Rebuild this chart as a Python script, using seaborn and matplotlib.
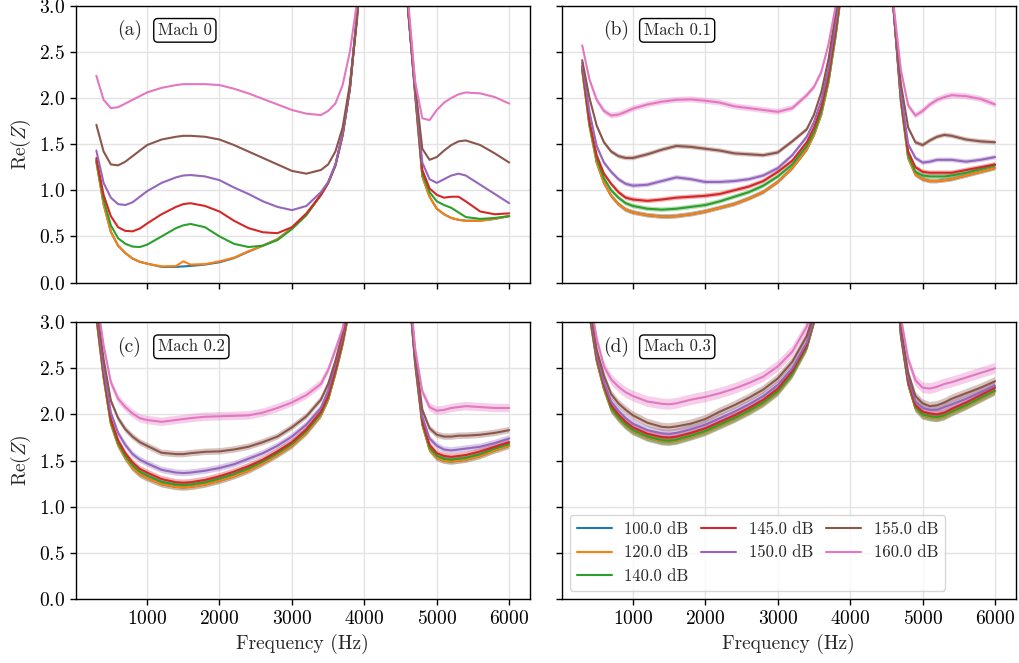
import numpy as np
import pandas as pd
import matplotlib
matplotlib.use("Agg")
import matplotlib.pyplot as plt
import seaborn as sns

# ---------------- data ----------------
FREQ = [300, 400, 500, 600, 700, 800, 900, 1000,
        1200, 1400, 1500, 1600, 1800,
        2000, 2200, 2400, 2600, 2800,
        3000, 3200, 3400, 3500, 3600, 3700, 3800, 3900,
        4000, 4200, 4400, 4500, 4600, 4700, 4800, 4900,
        5000, 5100, 5200, 5300, 5400, 5600, 5800, 6000]

LEVELS = ["100.0 dB", "120.0 dB", "140.0 dB", "145.0 dB", "150.0 dB", "155.0 dB", "160.0 dB"]
COLORS = ["#1f77b4", "#ff7f0e", "#2ca02c", "#d62728", "#9467bd", "#8c564b", "#e377c2"]
MACH_TITLES = ["Mach 0", "Mach 0.1", "Mach 0.2", "Mach 0.3"]
PANEL_TAGS = ["(a)", "(b)", "(c)", "(d)"]
BAND_HALF = [0.0, 0.025, 0.035, 0.045]

# ---- Mach 0 ----
M0_100 = [1.31, 0.85, 0.55, 0.40, 0.32, 0.26, 0.225, 0.205,
          0.17, 0.17, 0.175, 0.18, 0.195,
          0.22, 0.265, 0.335, 0.40, 0.47,
          0.59, 0.74, 0.95, 1.08, 1.27, 1.60, 2.10, 2.90,
          4.3, 15.0, 8.0, 5.0, 3.0, 2.05, 1.15, 0.93,
          0.80, 0.74, 0.70, 0.68, 0.67, 0.67, 0.69, 0.72]
M0_120 = [1.31, 0.85, 0.55, 0.40, 0.32, 0.26, 0.225, 0.205,
          0.175, 0.18, 0.23, 0.195, 0.20,
          0.23, 0.27, 0.34, 0.40, 0.47,
          0.59, 0.74, 0.95, 1.08, 1.27, 1.60, 2.10, 2.90,
          4.3, 15.0, 8.0, 5.0, 3.0, 2.05, 1.15, 0.93,
          0.80, 0.74, 0.70, 0.68, 0.67, 0.67, 0.69, 0.72]
M0_140 = [1.33, 0.90, 0.62, 0.48, 0.42, 0.39, 0.385, 0.41,
          0.50, 0.59, 0.62, 0.635, 0.60,
          0.50, 0.42, 0.385, 0.40, 0.46,
          0.58, 0.73, 0.95, 1.08, 1.27, 1.60, 2.10, 2.90,
          4.3, 15.0, 8.0, 5.0, 3.0, 2.07, 1.18, 0.98,
          0.88, 0.84, 0.81, 0.76, 0.71, 0.69, 0.70, 0.72]
M0_145 = [1.35, 0.95, 0.72, 0.60, 0.56, 0.555, 0.585, 0.64,
          0.74, 0.82, 0.85, 0.86, 0.83,
          0.77, 0.67, 0.59, 0.545, 0.535,
          0.60, 0.75, 0.95, 1.08, 1.27, 1.60, 2.10, 2.90,
          4.3, 15.0, 8.0, 5.0, 3.0, 2.08, 1.22, 1.02,
          0.95, 0.92, 0.93, 0.93, 0.88, 0.77, 0.74, 0.75]
M0_150 = [1.43, 1.08, 0.92, 0.85, 0.84, 0.87, 0.93, 0.99,
          1.08, 1.14, 1.16, 1.165, 1.15,
          1.11, 1.03, 0.96, 0.88, 0.82,
          0.785, 0.83, 0.98, 1.09, 1.28, 1.62, 2.12, 2.92,
          4.3, 15.0, 8.0, 5.0, 3.0, 2.10, 1.30, 1.12,
          1.08, 1.12, 1.16, 1.18, 1.16, 1.06, 0.96, 0.86]
M0_155 = [1.71, 1.42, 1.28, 1.27, 1.31, 1.37, 1.43, 1.49,
          1.55, 1.58, 1.59, 1.59, 1.58,
          1.55, 1.49, 1.42, 1.35, 1.28,
          1.21, 1.18, 1.22, 1.28, 1.42, 1.68, 2.15, 2.85,
          4.3, 15.0, 8.0, 5.0, 3.0, 2.15, 1.45, 1.33,
          1.36, 1.43, 1.49, 1.53, 1.54, 1.49, 1.40, 1.30]
M0_160 = [2.24, 1.98, 1.89, 1.90, 1.94, 1.98, 2.02, 2.06,
          2.11, 2.14, 2.15, 2.15, 2.15,
          2.14, 2.10, 2.05, 1.99, 1.93,
          1.87, 1.83, 1.815, 1.86, 1.94, 2.14, 2.50, 3.05,
          4.5, 15.0, 8.0, 5.0, 3.1, 2.18, 1.78, 1.76,
          1.87, 1.95, 2.00, 2.04, 2.06, 2.05, 2.01, 1.94]

# ---- Mach 0.1 ----
M1_100 = [2.30, 1.70, 1.30, 1.08, 0.94, 0.85, 0.79, 0.76,
          0.73, 0.715, 0.715, 0.72, 0.74,
          0.77, 0.81, 0.85, 0.91, 0.98,
          1.09, 1.24, 1.44, 1.60, 1.82, 2.17, 2.68, 3.28,
          4.5, 15.0, 8.0, 5.0, 2.95, 1.96, 1.35, 1.17,
          1.12, 1.10, 1.10, 1.11, 1.12, 1.16, 1.20, 1.24]
M1_120 = [2.30, 1.70, 1.30, 1.08, 0.94, 0.85, 0.79, 0.76,
          0.73, 0.715, 0.715, 0.72, 0.74,
          0.77, 0.81, 0.85, 0.91, 0.98,
          1.09, 1.24, 1.44, 1.60, 1.82, 2.17, 2.68, 3.28,
          4.5, 15.0, 8.0, 5.0, 2.95, 1.96, 1.35, 1.17,
          1.12, 1.10, 1.10, 1.11, 1.12, 1.16, 1.20, 1.24]
M1_140 = [2.33, 1.72, 1.34, 1.13, 1.00, 0.92, 0.86, 0.83,
          0.80, 0.79, 0.795, 0.80, 0.82,
          0.84, 0.88, 0.93, 0.98, 1.05,
          1.15, 1.28, 1.48, 1.63, 1.85, 2.20, 2.70, 3.30,
          4.5, 15.0, 8.0, 5.0, 2.95, 1.98, 1.38, 1.20,
          1.16, 1.15, 1.15, 1.15, 1.16, 1.19, 1.23, 1.27]
M1_145 = [2.35, 1.75, 1.38, 1.18, 1.07, 0.98, 0.92, 0.90,
          0.885, 0.90, 0.91, 0.92, 0.93,
          0.94, 0.96, 1.00, 1.04, 1.10,
          1.20, 1.32, 1.52, 1.68, 1.90, 2.25, 2.75, 3.35,
          4.5, 15.0, 8.0, 5.0, 2.95, 2.00, 1.42, 1.25,
          1.20, 1.19, 1.19, 1.19, 1.19, 1.22, 1.25, 1.28]
M1_150 = [2.38, 1.85, 1.48, 1.30, 1.20, 1.12, 1.07, 1.05,
          1.06, 1.10, 1.12, 1.14, 1.12,
          1.09, 1.09, 1.10, 1.12, 1.16,
          1.24, 1.38, 1.58, 1.74, 1.97, 2.32, 2.82, 3.40,
          4.5, 15.0, 8.0, 5.0, 2.95, 2.05, 1.50, 1.35,
          1.30, 1.31, 1.33, 1.33, 1.33, 1.31, 1.33, 1.36]
M1_155 = [2.41, 2.00, 1.70, 1.52, 1.42, 1.37, 1.35, 1.35,
          1.39, 1.44, 1.46, 1.48, 1.47,
          1.45, 1.43, 1.40, 1.39, 1.38,
          1.41, 1.53, 1.66, 1.82, 2.06, 2.42, 2.92, 3.50,
          4.6, 15.0, 8.0, 5.0, 2.95, 2.15, 1.68, 1.52,
          1.49, 1.54, 1.58, 1.60, 1.59, 1.55, 1.53, 1.52]
M1_160 = [2.57, 2.20, 1.98, 1.86, 1.81, 1.82, 1.85, 1.885,
          1.93, 1.96, 1.97, 1.98, 1.985,
          1.97, 1.95, 1.91, 1.89, 1.87,
          1.85, 1.89, 2.03, 2.12, 2.28, 2.58, 3.00, 3.60,
          4.8, 15.0, 8.0, 5.0, 3.0, 2.30, 1.92, 1.81,
          1.86, 1.93, 1.98, 2.01, 2.03, 2.02, 1.99, 1.93]

# ---- Mach 0.2 ----
M2_100 = [3.05, 2.40, 1.90, 1.67, 1.53, 1.42, 1.35, 1.31,
          1.245, 1.215, 1.21, 1.215, 1.24,
          1.28, 1.33, 1.39, 1.47, 1.56,
          1.66, 1.80, 1.99, 2.16, 2.44, 2.76, 3.16, 3.80,
          5.0, 15.0, 8.0, 5.5, 3.5, 2.56, 1.89, 1.62,
          1.53, 1.50, 1.49, 1.50, 1.51, 1.55, 1.61, 1.66]
M2_120 = [3.05, 2.40, 1.90, 1.67, 1.53, 1.42, 1.35, 1.31,
          1.245, 1.215, 1.21, 1.215, 1.24,
          1.28, 1.33, 1.39, 1.47, 1.56,
          1.66, 1.80, 1.99, 2.16, 2.44, 2.76, 3.16, 3.80,
          5.0, 15.0, 8.0, 5.5, 3.5, 2.56, 1.89, 1.62,
          1.53, 1.50, 1.49, 1.50, 1.51, 1.55, 1.61, 1.66]
M2_140 = [3.08, 2.42, 1.92, 1.69, 1.55, 1.45, 1.38, 1.34,
          1.27, 1.24, 1.235, 1.24, 1.265,
          1.305, 1.355, 1.415, 1.49, 1.58,
          1.68, 1.82, 2.01, 2.18, 2.46, 2.78, 3.18, 3.82,
          5.0, 15.0, 8.0, 5.5, 3.5, 2.58, 1.91, 1.64,
          1.55, 1.52, 1.51, 1.52, 1.53, 1.57, 1.63, 1.68]
M2_145 = [3.10, 2.45, 1.95, 1.72, 1.58, 1.48, 1.41, 1.37,
          1.30, 1.265, 1.26, 1.265, 1.29,
          1.33, 1.38, 1.44, 1.51, 1.60,
          1.70, 1.84, 2.03, 2.20, 2.48, 2.80, 3.20, 3.84,
          5.0, 15.0, 8.0, 5.5, 3.5, 2.60, 1.93, 1.67,
          1.58, 1.55, 1.54, 1.55, 1.56, 1.60, 1.65, 1.70]
M2_150 = [3.15, 2.50, 2.02, 1.80, 1.67, 1.57, 1.51, 1.47,
          1.40, 1.37, 1.365, 1.37, 1.39,
          1.42, 1.46, 1.52, 1.58, 1.66,
          1.76, 1.89, 2.07, 2.26, 2.54, 2.85, 3.25, 3.90,
          5.0, 15.0, 8.0, 5.5, 3.5, 2.63, 1.98, 1.74,
          1.66, 1.62, 1.61, 1.62, 1.63, 1.65, 1.69, 1.74]
M2_155 = [3.20, 2.60, 2.15, 1.96, 1.84, 1.76, 1.70, 1.66,
          1.585, 1.57, 1.57, 1.58, 1.595,
          1.60, 1.62, 1.65, 1.70, 1.76,
          1.86, 1.98, 2.16, 2.33, 2.58, 2.88, 3.25, 3.90,
          5.0, 15.0, 8.0, 5.5, 3.5, 2.68, 2.05, 1.85,
          1.78, 1.76, 1.76, 1.77, 1.77, 1.78, 1.80, 1.83]
M2_160 = [3.30, 2.75, 2.35, 2.17, 2.08, 2.01, 1.96, 1.94,
          1.92, 1.94, 1.95, 1.96, 1.975,
          1.98, 1.985, 1.99, 2.02, 2.07,
          2.13, 2.21, 2.33, 2.48, 2.70, 2.93, 3.35, 4.00,
          5.2, 15.0, 8.0, 5.5, 3.6, 2.72, 2.25, 2.08,
          2.04, 2.05, 2.07, 2.08, 2.09, 2.08, 2.07, 2.07]

# ---- Mach 0.3 ----
M3_100 = [3.85, 3.08, 2.58, 2.28, 2.06, 1.96, 1.88, 1.82,
          1.75, 1.71, 1.705, 1.715, 1.76,
          1.81, 1.88, 1.95, 2.03, 2.12,
          2.24, 2.43, 2.72, 3.00, 3.30, 3.70, 4.2, 4.8,
          6.0, 15.0, 8.0, 5.5, 4.0, 2.85, 2.33, 2.07,
          1.99, 1.97, 1.96, 1.98, 2.02, 2.09, 2.17, 2.25]
M3_120 = [3.85, 3.08, 2.58, 2.28, 2.06, 1.96, 1.88, 1.82,
          1.75, 1.71, 1.705, 1.715, 1.76,
          1.81, 1.88, 1.95, 2.03, 2.12,
          2.24, 2.43, 2.72, 3.00, 3.30, 3.70, 4.2, 4.8,
          6.0, 15.0, 8.0, 5.5, 4.0, 2.85, 2.33, 2.07,
          1.99, 1.97, 1.96, 1.98, 2.02, 2.09, 2.17, 2.25]
M3_140 = [3.90, 3.10, 2.60, 2.30, 2.07, 1.97, 1.89, 1.83,
          1.76, 1.72, 1.715, 1.725, 1.77,
          1.82, 1.89, 1.96, 2.04, 2.13,
          2.25, 2.44, 2.73, 3.01, 3.31, 3.71, 4.2, 4.8,
          6.0, 15.0, 8.0, 5.5, 4.0, 2.86, 2.34, 2.08,
          2.00, 1.98, 1.97, 1.99, 2.03, 2.10, 2.18, 2.26]
M3_145 = [3.92, 3.12, 2.62, 2.32, 2.10, 2.00, 1.92, 1.86,
          1.79, 1.755, 1.75, 1.76, 1.80,
          1.85, 1.92, 1.99, 2.07, 2.16,
          2.28, 2.47, 2.75, 3.03, 3.33, 3.73, 4.25, 4.85,
          6.0, 15.0, 8.0, 5.5, 4.0, 2.88, 2.36, 2.10,
          2.03, 2.01, 2.00, 2.02, 2.06, 2.13, 2.21, 2.29]
M3_150 = [3.95, 3.15, 2.65, 2.35, 2.14, 2.04, 1.96, 1.90,
          1.83, 1.795, 1.79, 1.80, 1.84,
          1.89, 1.96, 2.03, 2.11, 2.20,
          2.32, 2.50, 2.78, 3.05, 3.35, 3.75, 4.3, 4.9,
          6.0, 15.0, 8.0, 5.5, 4.0, 2.90, 2.40, 2.14,
          2.07, 2.05, 2.05, 2.08, 2.11, 2.17, 2.24, 2.31]
M3_155 = [4.00, 3.20, 2.70, 2.42, 2.22, 2.12, 2.05, 1.99,
          1.91, 1.865, 1.86, 1.87, 1.90,
          1.95, 2.03, 2.10, 2.18, 2.27,
          2.39, 2.57, 2.85, 3.10, 3.40, 3.80, 4.3, 4.95,
          6.0, 15.0, 8.0, 5.5, 4.0, 2.95, 2.45, 2.20,
          2.12, 2.09, 2.10, 2.13, 2.17, 2.23, 2.29, 2.36]
M3_160 = [4.20, 3.30, 2.82, 2.52, 2.38, 2.30, 2.24, 2.20,
          2.14, 2.115, 2.11, 2.12, 2.16,
          2.19, 2.23, 2.28, 2.34, 2.41,
          2.52, 2.68, 2.95, 3.20, 3.50, 3.90, 4.4, 5.0,
          6.2, 15.0, 8.0, 5.5, 4.1, 3.05, 2.60, 2.37,
          2.29, 2.28, 2.30, 2.33, 2.35, 2.40, 2.45, 2.50]

PANELS = [
    [M0_100, M0_120, M0_140, M0_145, M0_150, M0_155, M0_160],
    [M1_100, M1_120, M1_140, M1_145, M1_150, M1_155, M1_160],
    [M2_100, M2_120, M2_140, M2_145, M2_150, M2_155, M2_160],
    [M3_100, M3_120, M3_140, M3_145, M3_150, M3_155, M3_160],
]

# ---------------- style ----------------
sns.set_theme(style="ticks")
plt.rcParams.update({
    "font.family": ["cmr10", "DejaVu Serif"],
    "mathtext.fontset": "cm",
    "axes.formatter.use_mathtext": True,
    "axes.edgecolor": "black",
    "axes.linewidth": 1.0,
    "xtick.color": "black",
    "ytick.color": "black",
    "xtick.major.size": 4.5,
    "ytick.major.size": 4.5,
    "xtick.major.width": 1.0,
    "ytick.major.width": 1.0,
    "xtick.labelsize": 14,
    "ytick.labelsize": 14,
    "axes.labelsize": 14,
    "axes.unicode_minus": False,
})

palette = dict(zip(LEVELS, COLORS))

fig, axes = plt.subplots(2, 2, figsize=(10.19, 6.63), dpi=100, sharex=True, sharey=True)
fig.subplots_adjust(left=0.0743, right=0.9968, bottom=0.0965, top=0.9914,
                    wspace=0.0698, hspace=0.143)

for i, ax in enumerate(axes.flat):
    series = PANELS[i]
    rows = []
    for lev, vals in zip(LEVELS, series):
        for f, v in zip(FREQ, vals):
            rows.append((f, v, lev))
    df = pd.DataFrame(rows, columns=["freq", "rez", "level"])

    half = BAND_HALF[i]
    if half > 0:
        for lev, vals, col in zip(LEVELS, series, COLORS):
            y = np.array(vals)
            w = half * (1.3 if lev == "160.0 dB" else 1.0)
            ax.fill_between(FREQ, y - w, y + w, color=col, alpha=0.35, lw=0, zorder=1.8)

    sns.lineplot(data=df, x="freq", y="rez", hue="level", hue_order=LEVELS,
                 palette=palette, linewidth=1.5, errorbar=None,
                 legend=(i == 3), ax=ax, zorder=2.2)

    ax.set_ylim(0, 3.0)
    ax.set_yticks([0.0, 0.5, 1.0, 1.5, 2.0, 2.5, 3.0])
    ax.set_xticks([1000, 2000, 3000, 4000, 5000, 6000])
    ax.grid(True, color="#e3e3e3", linewidth=1.0, zorder=0)
    ax.set_axisbelow(True)
    for s in ax.spines.values():
        s.set_visible(True)
        s.set_color("black")
        s.set_linewidth(1.0)

    ax.set_xlabel("Frequency (Hz)" if i >= 2 else "")
    ax.set_ylabel(r"Re$(Z)$" if i % 2 == 0 else "")

    ax.text(0.091, 0.911, PANEL_TAGS[i], transform=ax.transAxes,
            ha="left", va="center", fontsize=14)
    ax.text(0.181, 0.911, MACH_TITLES[i], transform=ax.transAxes,
            ha="left", va="center", fontsize=12,
            bbox=dict(boxstyle="round,pad=0.25", fc="white", ec="black", lw=1.0))

sns.move_legend(axes[1, 1], "lower left", ncol=3, title=None, fontsize=12,
                frameon=True, handlelength=2.1, handletextpad=0.76,
                columnspacing=0.77, borderaxespad=0.5)

fig.savefig("out.png", dpi=100)
